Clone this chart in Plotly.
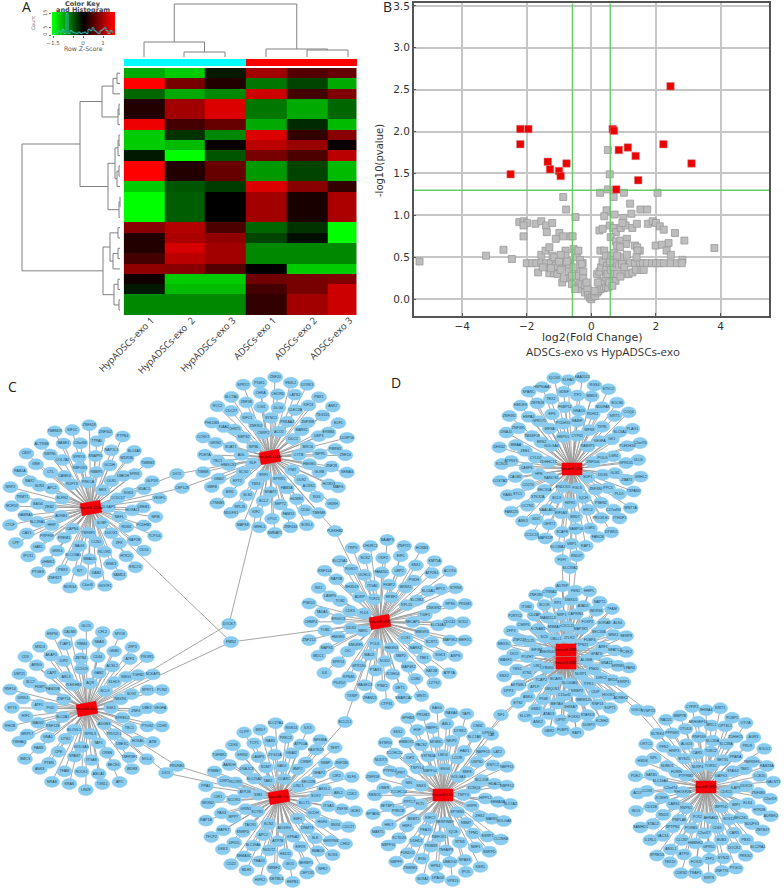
import numpy as np
import plotly.graph_objects as go

W, H = 784, 891

# ---------- Panel A data ----------
sample_labels = ["HypADSCs-exo 1", "HypADSCs-exo  2", "HypADSCs-exo 3", "ADSCs-exo 1", "ADSCs-exo 2", "ADSCs-exo 3"]
heat_column_edges = [0, 1, 2, 3, 4, 5, 5.72]
heat_values = [
    [-1.0, -1.2, -0.15, 0.95, 0.5, 0.6],
    [1.5, 0.7, 0.2, -0.7, -0.4, -1.0],
    [-0.6, -1.0, -0.8, 1.2, 0.4, 0.75],
    [0.2, 0.95, 1.3, -0.7, -1.0, -0.6],
    [0.2, 0.95, 1.3, -0.7, -1.0, -0.6],
    [1.4, 0.4, 0.6, -1.0, -0.25, -1.1],
    [-1.2, -0.3, -0.8, 1.3, 0.3, 0.8],
    [-1.2, -1.1, 0.05, 1.1, 0.9, 0.05],
    [-0.15, -1.9, -0.5, 0.7, 0.45, 1.1],
    [1.7, 0.2, 0.6, -0.9, -0.4, -1.1],
    [1.7, 0.2, 0.6, -0.9, -0.4, -1.1],
    [-1.2, -0.5, -0.35, 1.3, 0.8, 0.3],
    [-2.0, -0.55, 0.0, 0.95, 0.15, 1.0],
    [-2.0, -0.55, 0.0, 0.95, 0.15, 1.0],
    [-2.0, -0.55, 0.0, 0.95, 0.15, 1.0],
    [0.8, 1.05, 0.45, -0.6, -0.3, -1.5],
    [0.2, 1.0, 0.85, -0.4, -0.08, -2.0],
    [0.2, 1.25, 0.95, -0.8, -0.8, -0.8],
    [0.4, 1.1, 0.95, -0.8, -0.8, -0.8],
    [0.85, 0.8, 0.5, 0.0, -1.2, -1.2],
    [0.1, -1.2, -1.2, 0.65, 0.7, 0.75],
    [-0.15, -1.1, -1.1, 0.4, 0.7, 1.2],
    [-0.8, -0.8, -0.8, 0.3, 0.95, 1.2],
    [-0.8, -0.8, -0.8, 0.3, 0.95, 1.2],
]
row_leaf_y = [73.2 + 10.3 * i for i in range(24)]
col_leaf_x = [144, 184, 225, 266, 307, 348]
row_tree = (22, (80, (102, (113, (117, 0, 1), 2), (118, (119, 3, 4), 5)),
                 (108, (115, (118, (119, 6, 7), 8), (117, (119, 9, 10), 11)), (119, (120, 12, 13), 14))),
            (103, (110, (118, 15, 16), (113, (118, 17, 18), 19)), (114, (118, 20, 21), (119, 22, 23))))
col_tree = (4, (42, 0, (52, 1, 2)), (49, 3, (50, 4, 5)))
key_hist_x = [round(-1.5 + 0.1 * i, 1) for i in range(31)]
key_hist_count = [0.5, 1, 1.5, 3, 2, 4, 1, 15, 1, 3, 2, 1.5, 1, 2, 1, 1.5, 2, 1, 4, 3, 5, 3, 2, 1, 3, 4, 5, 3, 1, 3, 2]

# ---------- Panel B data ----------
red_x = [-2.2, -1.95, -2.2, -1.35, -1.28, -1.0, -0.95, -0.77, -2.5, 0.66, 0.7, 0.85, 1.13, 1.37, 1.45, 2.23, 3.1, 2.45, 0.77]
red_y = [2.03, 2.03, 1.85, 1.64, 1.55, 1.53, 1.47, 1.62, 1.49, 2.03, 2.01, 1.78, 1.81, 1.71, 1.42, 1.85, 1.62, 2.54, 1.31]
gray_x = [0.51, 0.57, 0.51, 0.27, 1.01, 2.05, 0.69, -0.87, 1.2, -0.78, 0.47, 1.52, 1.73, 0.4, 0.72, 1.24, -0.49, 0.99,
          -2.23, -2.1, -1.99, -1.73, -1.55, -1.4, -1.21, -2.1, -1.38, -2.1, -0.99, -1.1, -0.87, -0.64, -0.58,
          0.25, 0.35, 0.57, 0.68, 0.76, 0.91, 1.06, 0.96, 1.27, 1.41, 1.75, 1.9, 2.0, 2.12, 2.24, 2.59, 2.88, 2.39, 3.81,
          1.99, 2.18, 2.33, 2.46, 2.82, 0.6, 0.76, 0.9, 1.1, 1.08, 0.8, 0.89, 1.35, 1.42, 1.5, 1.43,
          -5.32, -3.26, -2.72, -2.46,
          -2.0, -1.83, -1.7, -1.55, -1.4, -1.25, -1.1, -0.95, -0.8, -0.65, -0.3, -0.27, 0.35, 0.5, 0.75, 1.0, 1.2, 1.35,
          1.5, 1.6, 1.72, 1.88, 2.0, 2.12, 2.25, 2.45, 2.65, 2.8,
          -1.3, -1.15, -1.05, -1.65, -1.5, -1.55, -1.42, -1.3, -1.2, -1.15, -1.1, -1.0, -0.95, -0.9, -0.85, -0.8, -0.8,
          -0.72, -0.7, -0.7, -0.65, -0.6, -0.55, -0.5, -0.45, -0.4, -0.35, -0.4, -0.35, -0.45, -0.4, -0.3, -0.25, -0.25,
          -0.3, -0.2, -0.2, -0.12, -0.1, -0.05, 0.0, 0.03, 0.08, 0.12, 0.18, 0.22, 0.28, 0.38, 0.45, 0.52, 0.3, 0.2, 0.18,
          0.25, 0.3, 0.35, 0.28, 0.4, 0.45, 0.48, 0.46, 0.46, 0.5, 0.6, 0.58, 0.62, 0.7, 0.72, 0.65, 0.75, 0.8, 0.85, 0.9,
          0.8, 0.95, 1.02, 1.05, 1.15, 1.27, 1.1, 1.4, 1.38, 1.55, 1.62, 0.9, 0.55, 0.65, -0.75, -0.95, -1.25, -0.6, -0.15,
          0.1, -0.5, -0.55, -0.3]
gray_y = [1.78, 1.49, 1.31, 1.27, 1.27, 1.27, 1.22, 1.22, 1.14, 1.07, 1.06, 1.07, 1.07, 0.99, 1.01, 1.02, 0.98, 0.97,
          0.92, 0.93, 0.91, 0.9, 0.93, 0.88, 0.91, 0.88, 0.8, 0.75, 0.79, 0.72, 0.75, 0.75, 0.75,
          0.82, 0.84, 0.88, 0.85, 0.8, 0.85, 0.88, 0.91, 0.85, 0.9, 0.9, 0.93, 0.91, 0.87, 0.83, 0.79, 0.7, 0.67, 0.61,
          0.64, 0.65, 0.58, 0.53, 0.47, 0.74, 0.69, 0.7, 0.72, 0.66, 0.64, 0.62, 0.64, 0.62, 0.58, 0.58,
          0.45, 0.52, 0.59, 0.48,
          0.43, 0.43, 0.43, 0.43, 0.43, 0.43, 0.43, 0.43, 0.43, 0.43, 0.43, 0.43, 0.43, 0.43, 0.43, 0.43, 0.43, 0.43,
          0.43, 0.43, 0.43, 0.43, 0.43, 0.43, 0.43, 0.43, 0.43, 0.43,
          0.31, 0.31, 0.3, 0.32, 0.38, 0.53, 0.58, 0.62, 0.52, 0.5, 0.4, 0.45, 0.35, 0.2, 0.25, 0.58, 0.52,
          0.44, 0.38, 0.33, 0.25, 0.18, 0.6, 0.55, 0.5, 0.58, 0.47, 0.33, 0.22, 0.28, 0.14, 0.12, 0.33, 0.25,
          0.18, 0.17, 0.08, 0.12, 0.05, 0.02, 0.0, 0.03, 0.05, 0.04, 0.08, 0.1, 0.12, 0.13, 0.15, 0.14, 0.22, 0.2, 0.3,
          0.33, 0.38, 0.45, 0.58, 0.58, 0.52, 0.4, 0.35, 0.26, 0.3, 0.35, 0.45, 0.52, 0.55, 0.3, 0.22, 0.22, 0.3, 0.4, 0.5,
          0.52, 0.42, 0.38, 0.3, 0.3, 0.32, 0.53, 0.5, 0.35, 0.35, 0.35, 0.27, 0.2, 0.16, 0.45, 0.53, 0.37, 0.28, 0.2,
          0.1, 0.12, 0.38, 0.42]
fc_thresholds = [-0.585, 0.585]
p_threshold = 1.3

# ---------- Panels C / D data ----------
hub_names = ["hsa-miR-1268a", "hsa-miR-1268b", "hsa-miR-6087", "hsa-miR-4454", "hsa-miR-7704",
             "hsa-miR-5100", "hsa-miR-1290", "hsa-miR-4488", "hsa-miR-4492", "hsa-miR-3960"]
hub_x = [91, 270, 380, 87, 279, 443, 572, 566, 566, 706]
hub_y = [508, 457, 622, 709, 797, 795, 469, 650, 663, 787]
hub_tilt = [-10, -10, -10, -10, -10, 0, 0, 0, 0, 0]
cluster_hubs = [[0], [1], [2], [3], [4], [5], [6], [7, 8], [9]]
cluster_x = [84, 275, 387, 86, 280, 441, 570, 566, 704]
cluster_y = [507, 455, 622, 708, 803, 795, 462, 660, 792]
cluster_rx = [74, 72, 78, 76, 74, 68, 70, 62, 68]
cluster_ry = [80, 76, 80, 80, 78, 85, 84, 72, 84]
cluster_genes = [
    "DLGAP1 SOBP TM9SF1 CAPN6 ADRB1 ELFN2 RUFY3 PRKCA MKX DUOX1 CCNJ BAG3 FREM1 HHIP ZEB2 APC2 CAMK4 RBFOX3 RBBP5 OLR1 CCDC17 NEFL SMAD5 SLCO3A1 GRIK4 PRPF39 SLC39A1 BAG4 SUN1 CTL COL7A1 SPRY4 SNAP91 GCDH UBE2H SGK3 HOXA11 RGS6 ZFX RCOR1 UHMK1 GAB1 CAV1 GABRA1 TRMT1 BAX2 GNE SMTNL BASE1 CXorf36 TTPAL NAP1L1 WDR36 SPIN1 VDAC1 CREB1 PCDHB1 RAP2B HTR2C WNK3 DAB2 KIT PBX3 CTCF MCFD2 NRP2 RAB1A CBX7 ACTR3B TMEM19 KIF1C ZNF618 ZNF302 PTPN4 SLC6A1 TMBIM1 GLP1R VEGFC NFIB TCP10L CD24 ESCO2 SAMD1 GIGYF1 C4orf3 NDRG4 ZNF827 PTGES IPO11 LPP",
    "CYTB ITM2 SPRR1 ERF1 RLF NIPBL CSRP2 ACO2 DDC1 OLR2 FAM3A NRAP2 TBX4 SCG2 AGL NEPS2 ZNF302 SYNC1 PRKAA2 MARK1 BIRC6 HMGB1 SEPT2 BCL2 GLS2 EPT2 HMGCS1 SOAT1 CHST5 KIFC1 CGI1 DLG4 CLEC2A ZNF398 USP3 INPP5 GLRB ACSS2 HUWE1 RPL26 BIN1 GNB2 TBC1 GRIN2 KIAA2 CDC27 ZNF38 CHKA CHORD LATS2 KIF13 TSG101 ERBB4 PBRM1 ZNF28 HOXD3 SIX4 CD40 FAM13 LPO1 KIF2 TIMM8 PDE7A CCNY2 PHLDB3 RCC2 SLC7A1 SPRY2 PIGK1 ZNF20 FBXL2 DYRK3 PBX1 ANK2 ELF5 DUSP16 ZNF24 SEMA3 MAFG GNRH TMEM8 SORL1 ZNF434 NMNAT1 GRHL1 MAPK8 NDUFS1 CTNNB1 GMFB",
    "NECAP1 CCS1 HMGN3 POLK NBR1 PLD1 TCF21 SRSF2 RPL15 MARK2 MBP2 NOD2 MAU2 SMURF1 DDX3 CDK5 ADRP ITGA5 FKBP2 MKNK1 SLC9B2 TGIF1 MMGR3 ZC3H14 PTAR1 GPR180 CIC HMGN5 ERGIC3 TOB2 SH3D19 UCHL5 FAM20C UBP2 PGDH SLC6A1 CNKSR2 SLC34A3 SCRT1 TBK1 MAP4K2 KPNB1 SPRY4 MAPK6 TOB1 TADA1 LAMP3 RAP2B RGS17 NCK2 ODF2 EIF5 SNX1 ATP2B1 BPY2 RPS6 CDC42 MAP3K2 SGK3 KAT2B CD80 DET1 PINK1 MAGEC3 ZNF212 CHMP4 PNKD1 SIX1 RNF114 SLC25A1 TRPV CHURC1 BAIAP3 ZNF721 HOXB3 KMT5A ACOT4 STRN3 PRDM1 SOD2 MEF2C ASPN ATP7A LZTS2 WNT5 SMARCA2 CTPS1 ZFAND1 TXNIP PDZD2 ILK MDC1",
    "SGK1 ADGB3 NPRL3 ELOVL1 SLC2A1 ZNF714 PLEKHB1 AQR BCL9 TPD52L1 TAF1 GOLGA5 UTS2 RNF128 PGD FAM20B ARL3 CCDC9 GAB2 KLHL9 NEXN1 SPRED2 ITGA8 SPAST CPE GNA1 MAGI2 ATF1 FKBP1 CAP2 DIP2 ZBTB4 CD44 ACSL1 SMG1 SOX1 ZNF4 TBC1 UBE3C CRBN PTEN FAM3 MRPL7 HIF1 GRIK4 SLC7 ARSG AKAP1 TJAP1 RBM4 NBAS GNB2 ATF3 TGFB2 SPRY1 UBE2 PTGS2 HOXA1 TNFRSF1 BECN1 ABCA1 ROCK1 TFAM RHOB SYT3 RNF14 USP21 CD9 MXD3 HSP90 CALM3 GLO1 CFL2 MYO6 ZFP3 PIK3R1 NCKAP1 PLIN2 VEGFA CDH2 ATM NOL4 WDR8 APC TXNL1 LIN28 KRAS NRAS ANK3 SMC3 YWHAQ",
    "BLLT5 E4F1 ADGRG SCN2 SCTR1 SIM1 TAB2 CCAR1 LINC1 DNMT3 KPNA2 ATP7B APC2 TACR1 GRIN1 ATP2B SLC25A2 KDM7 GAD1 BMP2 SEC22B SOX7 GCDH HSD11 NUDT2 SLC39A6 SNRPD MPP7 NCOR1 RCOR1 DNAJC3 LAMP5 ZYG11A GNAI2 CIRBP GFAP2 ASXL1 ITGA5 HGF4 SLK EIF2S SEMA3C UFD1L MAPK7 PAX3 CIR1 DRP2 AASDH GRIN2 TCP1 RAB5 PRKCZ ATP10A FASTKD5 RBBP CIR2 ABL2 ZNF38 SNX4 SERPINB SMAD3 SERBP1 GIO1 NRBF2 TEAD1 RAP1B NRXN2 PPA1 PSMB7 TGFBR2 CDK6 CLPP BRD7 SLC27A4 RGS14 ILK3 NFKBIA TERT ZNF280 KLF6 CDK2 GDE1 CDC27 CHD2 SOX6 NFE2 CEP135 HSPB1 KBTBD4 HIPK2 MLH1 CD22 DKK3 TFCP2",
    "TSPY3 SPTBN1 SERPINB9 KIFC2 FLT1 SNX3 NBPF14 GNG4 GOLGA3 RBM7 IQCE RBFOX1 PEA15 BSMT1 PPTC7 NIN TSPYL4 VSTM2A LMO4 LCOR SNF8 KCNQ4 GRPR TNFAIP8 TRIM39 DDHD2 HSF2 PRKCB ZCCHC14 QPRT IGF2 PACS2 MOB3C NRIP2 HAX1 USP30 BCL11B HIPPL1 ZHX2 TPM1 RTN3 FUNDC2 KCTD20 HELT SETBP1 ONER PTPN12 ZCCHC10 HMBOX1 HGF NBPF1 ABL1 DYRK2 SLC7A8 NBPF15 KNTC1 HDAC5 SEMA3A MARK1 ESRP1 NRF1 NPAS3 UBE2G2 HPS4 IFI30 SPTAN1 SBNO1 ZNF318 NUDT3 SYNRG SSX2 EPHB3 PRDM2 BAG4 RASA4 TAP1 CNN2 CAT LAT2 NBPF11 NBPF12 SLC7A2 GOLGA8 CLCNKB SNRPD KSR1 IPO5 VPS13 DPAG3 GLRA2 ZSWIM1 NBPF9 NBPF10 MAST1",
    "ZNF506 SDF1 PGLS ENDOD1 NANOS1 ZDHHC13 GOLGA4 HSPD1 CYP32 RAB9P1 ZNF480 IQCH HIPK1 BCL9 SEC31A HPE CYLD2 ERS2 EIF3A PCDH15 RABIF WFS8 VEGFA POLG DDX6 BRD7 EIF1AX NAALAD2 STK32A CD274 CASP6 ZEB1 TM4SF18 GPR171 EFS FKBP14 GNA13 RDH11 TIPRL GK1 LGR4 GLB1 PPC5 PSEN2 ERC2 GDI1 OCTN1 STC1 CALM2 ATP6V1 MMAA ZNF395 HSPA5 ZBTB28 TEX2 GDNF ITF2 MMD3 NDUFA8 SIRT5 SLC6A2 PLEKHG3 GPR155 ZBAT1 PLD1 C17orf94 PRICKLE2 LGR5 SAMP10 SCAP8 CERT1 COX7A2 KCNJ3 DHX32 DNAJ1 ZNF492 HMCES SPARC HSP90AA1 IQCG3 KLHA5 KAA2013 RGS4 STVC2 SOCS6 COQ4 PLAG1 C2orf76 ULLS GRHL2 TSPAN2 WNT7A YTHDF1 DTWD1 FANCB RAP1 VBP1 SLC38A1 MAPK1IP CCDC18 ANK3 FAM120 RAB5",
    "ALG6B NLRP1 SLC44A5 BCAR3 CYB5R4 ANKRD61 OBLL1 JTLR2 PTPN21 ITPK1 NRBP2 C15orf2 UBQLN1 TCAP2 LIN7 EIF3M SCD MSMA7 CXCL11 MAP3K5 FUBP4 GPAT3 PNKD SHISA7 METAG PIGB APLP KTN1 POZH7 CCL25 KCNAB1 MAB21L3 NRP1 CAPRIN1 FOXP2 SEC16B ARF1 GNA12 DIRC2 CDIP TMEM120 GNB1 ANK4 AKTNBL1 YES1 DIO2 ZNF227 CSRP3 CD2AP BCOR RP1 DMXD1 ATAD1 WDR36 GORAB WNK1 NFATC4 SRRM1 BRD4 HOOK2 RNF14 STARD3 FOXK1 UPRT ATAD3 SNX2 WASF2 MEX3C ZFP3 P2RY12 ITGB2 ZNF280 CTNNA2 ADTRP FSN1 HHIPL NAPT1 TFAM ALK4 SENP8 PCSK2 LPAR4 ESRP1 ADRBK2 SUPT1 KCNH2 DUSP2 RAP1 FUBP1 UBR2 ANK2 SLC39 ETS2 DPP3",
    "CDK15 INPP5D AHNAK2 PCK2 RNPS1 RHOXF2B PTPRM2 NLRP4 TOR3C DAPK3 SOX12 CD69 C2orf27 FOXM1 PNPLA8 CABS1 C2orf74 FURIN BYSZ1 CAR5 TUSC2 SETX1 STAG2 ILAP1 WIPI GPR55 HMBNK2 CLCN7 SPTPN2 RND3 ZCWHY SLC16A4 SUMO1 HRIP3 ALG13 RNF169 SLC35A SLC38A PPARA TBK1 DDX19 ELK4 SEC24C CAR3 BUB3 ASXL1 VAC14 STAC2 CD41B CCR3 SATB1 NPL PFN2 PPP6R1 OTUD3 ARHGEF16 MRC1 OPTSL1 ZDHHC5 PRLR TNFRSF10 LCE20 ZNF480 HTR2B NDUFV3 PBX1 DOCK2 SYNJ2 ZFP1 FOXJ2 ATP5I INO1 ACLY PDE2 HSDB ORTC1 SLTRK4 RAD21 MMP7B CYFIP2 SHISA4 KRIT1 PCBP1 OTOA AGR3 SOLD1 RAB28A GALNT1 C2orf59 ADRBK2 ZBTB47 SLC29A1 PRKG2 PYGO1 ZNF776 SIRT8 TRAF1 CDKN2 TEX19 SPRED3 IL1RL1 SAMHD1",
]
bridge_names = ["DIO2", "CEP128", "PLEKHB2", "DOCK7", "FMN2", "BCL2L1", "PRUNE2", "DIO1", "FGF7", "SLC39A2", "RND2T", "UGCG", "SYNPO2", "NF1", "DPP10"]
bridge_x = [177, 182, 335, 229, 231, 345, 177, 166, 562, 570, 577, 637, 648, 501, 488]
bridge_y = [474, 488, 531, 624, 642, 722, 766, 773, 560, 568, 556, 710, 711, 715, 733]
bridge_links = [[0, 1], [0, 1], [1, 2], [1, 3], [0, 2, 3], [2, 4], [3, 4], [3, 4], [6, 8], [6, 7], [6, 8], [7, 9], [7, 9], [5, 8], [5, 7]]
panel_letters = ["A", "B", "C", "D"]
panel_letter_x = [26, 387, 12, 396]
panel_letter_y = [6, 6, 386, 382]


def ring_layout(cx, cy, rx, ry, names):
    fractions = [0.32, 0.48, 0.64, 0.82, 1.0]
    counts = [int(round(len(names) * f / sum(fractions))) for f in fractions]
    counts[-1] = len(names) - sum(counts[:-1])
    xs, ys = [], []
    for ring, (f, c) in enumerate(zip(fractions, counts)):
        for j in range(c):
            ang = 2 * np.pi * j / c + ring * 0.73
            s = f * (1 + 0.025 * (-1) ** j)
            xs.append(cx + rx * s * np.cos(ang))
            ys.append(cy + ry * s * np.sin(ang))
    return xs, ys


def tree_segments(node, leaves, leaf_level, seg_p, seg_l):
    if isinstance(node, int):
        return leaves[node], leaf_level
    h, a, b = node
    p1, l1 = tree_segments(a, leaves, leaf_level, seg_p, seg_l)
    p2, l2 = tree_segments(b, leaves, leaf_level, seg_p, seg_l)
    seg_p += [p1, p1, p2, p2, None]
    seg_l += [l1, h, h, l2, None]
    return (p1 + p2) / 2, h


def dom_x(a, b):
    return [a / W, b / W]


def dom_y(top, bottom):
    return [1 - bottom / H, 1 - top / H]


fig = go.Figure()

# ---------- Networks (page-pixel axes) ----------
node_x, node_y, node_t, edge_x, edge_y = [], [], [], [], []
for ci, genes in enumerate(cluster_genes):
    names = genes.split()
    xs, ys = ring_layout(cluster_x[ci], cluster_y[ci], cluster_rx[ci], cluster_ry[ci], names)
    node_x += xs
    node_y += ys
    node_t += names
    for x, y in zip(xs, ys):
        for h in cluster_hubs[ci]:
            edge_x += [hub_x[h], x, None]
            edge_y += [hub_y[h], y, None]
for name, x, y, links in zip(bridge_names, bridge_x, bridge_y, bridge_links):
    node_x.append(x)
    node_y.append(y)
    node_t.append(name)
    for h in links:
        edge_x += [hub_x[h], x, None]
        edge_y += [hub_y[h], y, None]

fig.add_trace(go.Scatter(x=edge_x, y=edge_y, mode="lines", line=dict(color="#9c9c9c", width=0.9), hoverinfo="skip"))

theta = np.linspace(0, 2 * np.pi, 15)
ell_x, ell_y = [], []
for x, y in zip(node_x, node_y):
    ell_x += list(x + 7.6 * np.cos(theta)) + [None]
    ell_y += list(y + 5.6 * np.sin(theta)) + [None]
fig.add_trace(go.Scatter(x=ell_x, y=ell_y, mode="lines", fill="toself", fillcolor="#8accf0",
                         line=dict(color="#8accf0", width=0.5), hoverinfo="skip"))
fig.add_trace(go.Scatter(x=node_x, y=node_y, mode="text", text=node_t,
                         textfont=dict(size=3.6, color="#20424f", family="Liberation Sans"), hoverinfo="text"))

box_x, box_y = [], []
for x, y, t in zip(hub_x, hub_y, hub_tilt):
    a = np.radians(t)
    for dx, dy in [(-10, -6), (10, -6), (10, 6), (-10, 6), (-10, -6)]:
        box_x.append(x + dx * np.cos(a) - dy * np.sin(a))
        box_y.append(y + dx * np.sin(a) + dy * np.cos(a))
    box_x.append(None)
    box_y.append(None)
fig.add_trace(go.Scatter(x=box_x, y=box_y, mode="lines", fill="toself", fillcolor="#f5000a",
                         line=dict(color="#f5000a", width=0.5), hoverinfo="skip"))
fig.add_trace(go.Scatter(x=hub_x, y=hub_y, mode="text", text=hub_names,
                         textfont=dict(size=3.4, color="#400000", family="Liberation Sans"), hoverinfo="text"))

# ---------- Dendrograms ----------
px, py = [], []
tree_segments(col_tree, col_leaf_x, 57, px, py)
fig.add_trace(go.Scatter(x=px, y=py, mode="lines", line=dict(color="#808080", width=1), hoverinfo="skip"))
px, py = [], []
tree_segments(row_tree, row_leaf_y, 120, px, py)
fig.add_trace(go.Scatter(x=py, y=px, mode="lines", line=dict(color="#808080", width=1), hoverinfo="skip"))

# ---------- Heatmap ----------
rb = [[0, "#00ff00"], [0.5, "#000000"], [1, "#ff0000"]]
fig.add_trace(go.Heatmap(z=heat_values, x=heat_column_edges, y=list(range(25)), colorscale=rb, zmin=-1.5, zmax=1.5,
                         showscale=False, xaxis="x2", yaxis="y2", xgap=0, ygap=0))

# ---------- Colour key ----------
key_x = np.linspace(-1.55, 1.6, 64)
fig.add_trace(go.Heatmap(z=[key_x, key_x], x=key_x, y=[0, 16], colorscale=rb, zmin=-1.5, zmax=1.5,
                         showscale=False, xaxis="x4", yaxis="y4", hoverinfo="skip"))
fig.add_trace(go.Scatter(x=key_hist_x, y=key_hist_count, mode="lines", line=dict(color="#30c8c8", width=0.9, shape="hvh"),
                         xaxis="x4", yaxis="y4", hoverinfo="skip"))

# ---------- Volcano ----------
fig.add_trace(go.Scatter(x=gray_x, y=gray_y, mode="markers", xaxis="x3", yaxis="y3",
                         marker=dict(symbol="square", size=7, color="#bdbdbd", line=dict(color="#9a9a9a", width=0.8))))
for v in fc_thresholds:
    fig.add_trace(go.Scatter(x=[v, v], y=[-0.2, 3.53], mode="lines", xaxis="x3", yaxis="y3",
                             line=dict(color="#66cc66", width=1.4), hoverinfo="skip"))
fig.add_trace(go.Scatter(x=[-5.5, 5.5], y=[p_threshold, p_threshold], mode="lines", xaxis="x3", yaxis="y3",
                         line=dict(color="#66cc66", width=1.4), hoverinfo="skip"))
fig.add_trace(go.Scatter(x=red_x, y=red_y, mode="markers", xaxis="x3", yaxis="y3",
                         marker=dict(symbol="square", size=7.5, color="#ee0000", line=dict(color="#d08080", width=0.5))))

# ---------- Side colour bars ----------
shapes = [
    dict(type="rect", xref="x", yref="y", x0=124, x1=246, y0=59, y1=66, fillcolor="#00ffff", line_width=0),
    dict(type="rect", xref="x", yref="y", x0=246, x1=357, y0=59, y1=66, fillcolor="#ff0000", line_width=0),
]

annotations = []
for t, x, y in zip(panel_letters, panel_letter_x, panel_letter_y):
    annotations.append(dict(x=x, y=y, xref="x", yref="y", text=t, showarrow=False,
                            font=dict(size=14, color="#222222", family="Open Sans")))
annotations += [
    dict(x=83, y=4, xref="x", yref="y", text="<b>Color Key</b>", showarrow=False,
         font=dict(size=6.5, color="#444444", family="DejaVu Sans")),
    dict(x=83, y=10, xref="x", yref="y", text="<b>and Histogram</b>", showarrow=False,
         font=dict(size=6.5, color="#444444", family="DejaVu Sans")),
    dict(x=83, y=48.5, xref="x", yref="y", text="Row Z-Score", showarrow=False,
         font=dict(size=6.2, color="#555555", family="DejaVu Sans")),
    dict(x=33, y=23, xref="x", yref="y", text="Count", textangle=-90, showarrow=False,
         font=dict(size=4.8, color="#555555", family="DejaVu Sans")),
    dict(x=592, y=337, xref="x", yref="y", text="log2(Fold Change)", showarrow=False,
         font=dict(size=11, color="#333333", family="DejaVu Sans")),
    dict(x=603, y=351, xref="x", yref="y", text="ADSCs-exo vs HypADSCs-exo", showarrow=False,
         font=dict(size=11.5, color="#333333", family="Open Sans")),
    dict(x=379, y=161, xref="x", yref="y", text="-log10(pvalue)", textangle=-90, showarrow=False,
         font=dict(size=10, color="#333333", family="DejaVu Sans")),
]

fig.update_layout(
    width=W, height=H, autosize=False, margin=dict(l=0, r=0, t=0, b=0, pad=0), showlegend=False,
    paper_bgcolor="white", plot_bgcolor="rgba(0,0,0,0)", shapes=shapes, annotations=annotations,
    xaxis=dict(domain=[0, 1], range=[0, W], visible=False, fixedrange=True),
    yaxis=dict(domain=[0, 1], range=[H, 0], visible=False, fixedrange=True),
    xaxis2=dict(domain=dom_x(123.7, 356.7), range=[0, 5.72], anchor="y2", tickmode="array",
                tickvals=[0.68, 1.68, 2.68, 3.68, 4.68, 5.55], ticktext=sample_labels, tickangle=-45, ticks="",
                ticklabelstandoff=-3, showgrid=False, zeroline=False,
                tickfont=dict(size=9.5, color="#333333", family="Open Sans")),
    yaxis2=dict(domain=dom_y(68, 315), range=[24, 0], anchor="x2", visible=False),
    xaxis3=dict(domain=dom_x(413.7, 769), range=[-5.5, 5.5], anchor="y3", mirror=True, showline=True, linecolor="#555555",
                linewidth=1.5, tickvals=[-4, -2, 0, 2, 4], gridcolor="#c6c6c6", gridwidth=1.5, zeroline=False,
                ticks="inside", ticklen=3, tickcolor="#555555",
                tickfont=dict(size=10.5, color="#333333", family="DejaVu Sans")),
    yaxis3=dict(domain=dom_y(3.3, 316), range=[-0.2, 3.53], anchor="x3", mirror=True, showline=True, linecolor="#555555",
                linewidth=1.5, tickvals=[0, 0.5, 1, 1.5, 2, 2.5, 3, 3.5], tickformat=".1f", gridcolor="#c6c6c6", gridwidth=1.5,
                zeroline=False, ticks="inside", ticklen=3, tickcolor="#555555", ticklabeloverflow="allow",
                tickfont=dict(size=10.5, color="#333333", family="DejaVu Sans")),
    xaxis4=dict(domain=dom_x(52, 115), range=[-1.55, 1.6], anchor="y4", tickvals=[-1.5, -0.5, 0, 1],
                ticktext=["−1.5", "", "0", "1"], ticks="outside", ticklen=2, tickcolor="#666666", showgrid=False,
                zeroline=False, tickfont=dict(size=5.5, color="#555555", family="DejaVu Sans")),
    yaxis4=dict(domain=dom_y(12, 35), range=[0, 16], anchor="x4", tickvals=[0, 5, 15], tickangle=-90,
                ticks="outside", ticklen=2, tickcolor="#666666", showgrid=False, zeroline=False,
                tickfont=dict(size=5, color="#555555", family="DejaVu Sans")),
)
for ax in ("xaxis", "yaxis", "xaxis2", "yaxis2", "xaxis3", "yaxis3", "xaxis4", "yaxis4"):
    fig.layout[ax].automargin = False
fig.write_html("out.html", config={"displayModeBar": False},
               post_script="document.body.style.margin='0';document.body.style.overflow='hidden';")
